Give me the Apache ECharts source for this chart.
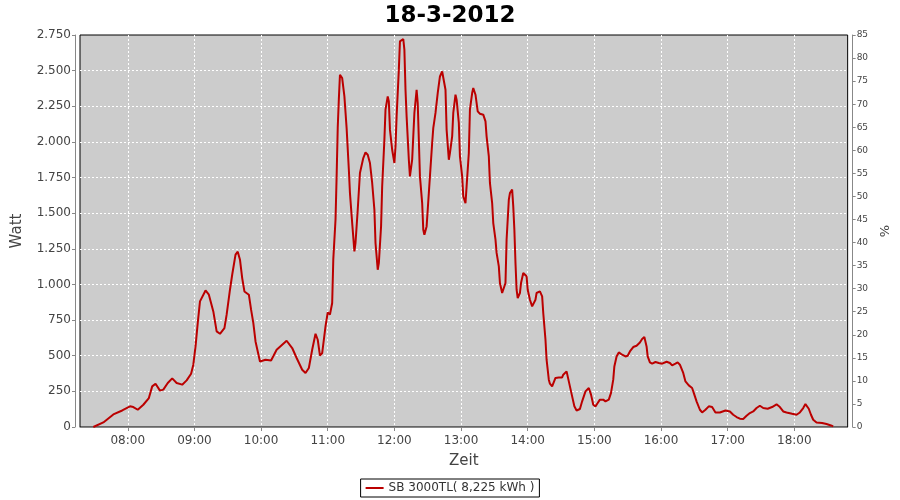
<!DOCTYPE html>
<html>
<head>
<meta charset="utf-8">
<script src="https://cdn.jsdelivr.net/npm/echarts@6/dist/echarts.min.js"></script>
<style>html,body{margin:0;padding:0;background:#fff}#c{width:900px;height:500px}</style>
</head>
<body>
<div id="c"></div>
<script>
// minutes since midnight on 18-3-2012
const minutes = [449,458,467,475,482,485,489,494,499,502,505,509,512,516,520,524,529,533,537,539,541,543,545,550,553,557,560,563,567,569,572,574,577,579,581,583,585,589,591,593,595,598,599,604,609,614,619,623,628,632,637,640,643,646,649,651,653,655,658,660,662,664,665,667,668,669,670,671,673,675,677,679,680,682,684,685,687,689,692,694,696,698,700,702,703,705,706,708,709,711,712,714,715,716,718,720,721,722,724,725,728,729,730,731,733,734,736,737,738,740,741,742,743,745,746,747,749,750,752,754,755,757,759,761,763,764,766,767,769,770,772,773,775,776,778,779,781,782,784,785,787,788,790,791,793,795,797,800,802,803,805,806,808,809,811,812,814,815,817,818,820,821,823,824,826,827,828,829,830,831,833,834,836,837,839,840,842,844,845,847,848,851,853,854,856,857,859,860,862,865,868,871,872,875,876,878,880,882,884,887,889,892,895,897,899,901,903,905,908,910,913,915,917,918,920,922,925,928,930,932,935,938,941,943,945,947,948,950,952,955,958,961,965,968,970,973,975,977,980,982,985,988,990,992,995,997,1000,1003,1006,1009,1013,1018,1022,1025,1028,1031,1034,1037,1040,1043,1046,1049,1052,1056,1060,1064,1067,1070,1073,1078,1082,1085,1088,1090,1093,1095,1097,1100,1105,1109,1113,1115];
const watts = [0,32,88,116,145,140,121,156,203,285,304,255,262,309,341,309,297,327,374,437,565,730,881,958,928,811,671,654,694,788,963,1068,1209,1230,1174,1045,951,928,823,730,600,495,460,472,467,542,577,605,554,484,402,379,414,542,654,612,500,519,706,804,788,870,1174,1454,1758,2100,2300,2471,2448,2319,2097,1805,1641,1431,1232,1291,1524,1782,1887,1926,1910,1852,1712,1524,1291,1103,1150,1407,1688,2015,2226,2319,2284,2086,1945,1852,1968,2179,2507,2705,2722,2647,2366,2179,1875,1758,1875,2039,2203,2366,2273,2015,1758,1571,1384,1349,1407,1524,1758,1992,2097,2203,2343,2459,2494,2507,2366,2086,1875,1922,2039,2203,2331,2296,2133,1898,1758,1617,1571,1688,1922,2226,2343,2378,2331,2214,2198,2191,2144,2039,1898,1712,1571,1431,1314,1221,1127,1010,940,928,1010,1314,1594,1641,1665,1548,1384,1150,963,905,940,1010,1080,1092,1057,963,893,846,846,893,940,951,916,800,612,472,332,304,285,344,348,348,367,390,355,285,215,145,116,126,180,250,274,227,156,145,168,192,192,180,192,239,332,425,495,523,507,495,500,530,561,570,593,617,631,565,495,453,444,456,449,444,458,449,432,444,453,437,379,320,292,274,227,180,121,102,121,145,140,102,102,116,109,86,70,58,56,79,98,109,133,149,133,128,140,159,140,109,102,93,86,102,133,161,128,86,51,32,28,21,11,4];
const titleText = '18-3-2012';
const seriesName = 'SB 3000TL( 8,225 kWh )';
const axisMin = 7 * 60 + 17, axisMax = 18 * 60 + 48;

const t = m => new Date(2012, 2, 18, Math.floor(m / 60), m % 60).getTime();
const data = minutes.map((m, i) => [t(m), watts[i]]);
const fmt = v => String(v).replace(/\B(?=(\d{3})+(?!\d))/g, '.');
const FONT = 'DejaVu Sans';
const gridLine = {show: true, showMinLine: false, showMaxLine: false,
  lineStyle: {color: '#fff', type: [2, 2], width: 1}};

const chart = echarts.init(document.getElementById('c'), null, {renderer: 'canvas'});
chart.setOption({
  animation: false,
  backgroundColor: '#ffffff',
  textStyle: {fontFamily: FONT},
  title: {text: titleText, left: 'center', top: 0,
    textStyle: {fontFamily: FONT, fontSize: 23, fontWeight: 'bold', color: '#000'}},
  grid: {left: 80, right: 52, top: 35, bottom: 73, show: true,
    backgroundColor: '#cccccc', borderColor: '#000', borderWidth: 1},
  legend: {bottom: 3, left: 'center', borderColor: '#000', borderWidth: 1,
    padding: [3, 5], itemWidth: 18, itemHeight: 2, icon: 'rect', itemGap: 4,
    textStyle: {fontFamily: FONT, fontSize: 12, color: '#333'}},
  xAxis: {
    type: 'time', min: t(axisMin), max: t(axisMax),
    minInterval: 3600000, maxInterval: 3600000,
    offset: 4,
    name: 'Zeit', nameLocation: 'middle', nameGap: 23,
    nameTextStyle: {fontSize: 15, color: '#444', fontFamily: FONT},
    axisLine: {lineStyle: {color: '#888'}},
    axisTick: {show: true, length: 4, lineStyle: {color: '#888'}},
    axisLabel: {formatter: '{HH}:{mm}', color: '#444', fontSize: 12, margin: 4,
      fontFamily: FONT, showMinLabel: false, showMaxLabel: false},
    splitLine: gridLine
  },
  yAxis: [{
    type: 'value', min: 0, max: 2750, interval: 250, offset: 5,
    name: 'Watt', nameLocation: 'middle', nameGap: 50, nameRotate: 90,
    nameTextStyle: {fontSize: 15, color: '#444', fontFamily: FONT},
    axisLine: {show: true, lineStyle: {color: '#888'}},
    axisTick: {show: true, length: 3, lineStyle: {color: '#888'}},
    axisLabel: {formatter: fmt, color: '#444', fontSize: 12, margin: 4, fontFamily: FONT},
    splitLine: gridLine
  }, {
    type: 'value', min: 0, max: 85, interval: 5, offset: 5, position: 'right',
    name: '%', nameLocation: 'middle', nameGap: 26, nameRotate: 90,
    nameTextStyle: {fontSize: 13, color: '#444', fontFamily: FONT},
    axisLine: {show: true, lineStyle: {color: '#888'}},
    axisTick: {show: true, length: 3, lineStyle: {color: '#888'}},
    axisLabel: {color: '#444', fontSize: 9, margin: 4, fontFamily: FONT},
    splitLine: {show: false}
  }],
  series: [{
    name: seriesName, type: 'line', yAxisIndex: 0, data: data,
    showSymbol: false, smooth: false,
    lineStyle: {color: '#bb0000', width: 2}, itemStyle: {color: '#bb0000'}
  }]
});
</script>
</body>
</html>
